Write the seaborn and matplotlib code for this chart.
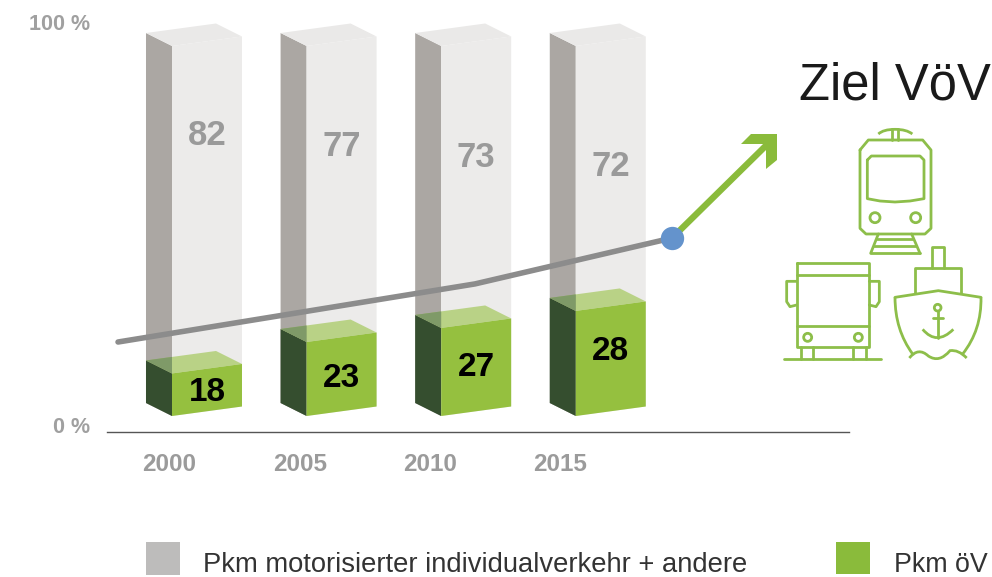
import numpy as np
import pandas as pd
import matplotlib
matplotlib.use("Agg")
import matplotlib.pyplot as plt
import seaborn as sns
from matplotlib.patches import Polygon, Rectangle, Circle, PathPatch
from matplotlib.path import Path
from matplotlib.transforms import Affine2D
from matplotlib.lines import Line2D

# ---- data
years = ["2000", "2005", "2010", "2015"]
oev_share = [18, 23, 27, 28]
miv_share = [82, 77, 73, 72]
oev_drawn_height = [11.5, 20, 23.8, 28.4]   # the green blocks as drawn, in % of the full column
full_column = [100, 100, 100, 100]
trend_x = [-0.661, 1.991, 3.455]
trend_y = [20, 35.7, 48.1]
goal_x = [3.455, 4.19]
goal_y = [48.1, 74.4]

# ---- styles and layout
W, H = 992, 577
GREEN, DARKGREEN = "#95C03F", "#354E2F"
LIGHT, SIDE, TOP = "#ECEBEA", "#ABA7A3", "#EAE9E8"
ARROW = "#8ABB3B"
ICON = "#8DBE4A"
sns.set_theme(style="white")
plt.rcParams["font.family"] = ["Liberation Sans", "DejaVu Sans"]

fig = plt.figure(figsize=(W / 100, H / 100), dpi=100, facecolor="white")
ax = fig.add_axes([107 / W, (H - 432) / H, 742 / W, 432 / H])
bar_w = 70 / 134.6
df = pd.DataFrame({"year": years, "full": full_column, "oev": oev_drawn_height})
sns.barplot(data=df, x="year", y="full", color=LIGHT, saturation=1, width=bar_w, ax=ax, zorder=2, errorbar=None)
sns.barplot(data=df, x="year", y="oev", color=GREEN, saturation=1, width=bar_w, ax=ax, zorder=6, errorbar=None)
ax.set_xlim(-0.7429, 4.770)
ax.set_ylim(-4.32, 112.43)
ax.set_xlabel("")
ax.set_ylabel("")

slant = 9.5 / 3.7 / bar_w      # front faces rise to the right
dx, dy = 26 / 134.6, 13 / 3.7  # depth of the block


def shear_front(patch):
    left = patch.get_x()
    m = np.array([[1, 0, 0], [slant, 1, -slant * left], [0, 0, 1]], float)
    patch.set_transform(Affine2D(m) + ax.transData)
    patch.set_linewidth(0)
    patch.set_clip_on(False)


def block(left, v, side, top, z, top_alpha=1.0):
    ax.add_patch(Polygon([(left, 0), (left, v), (left - dx, v + dy), (left - dx, dy)],
                         fc=side, lw=0, zorder=z - 1, clip_on=False))
    r = slant * bar_w
    ax.add_patch(Polygon([(left, v), (left + bar_w, v + r), (left + bar_w - dx, v + r + dy), (left - dx, v + dy)],
                         fc=top, alpha=top_alpha, lw=0, zorder=z + 1, clip_on=False))


patches = list(ax.patches)
for p in patches:
    shear_front(p)
for p, v in zip(patches[:4], full_column):
    block(p.get_x(), v, SIDE, TOP, 2)
for p, v in zip(patches[4:8], oev_drawn_height):
    left = p.get_x()
    block(left, v, DARKGREEN, GREEN, 6, top_alpha=0.58)
    ax.add_patch(Polygon([(left - dx, v + dy), (left, v), (left, v + dy + slant * dx)],
                         fc="#7F9A68", lw=0, zorder=7.5, clip_on=False))

sns.lineplot(x=trend_x, y=trend_y, sort=False, color="#8C8C8C", lw=4.0, ax=ax, zorder=5, errorbar=None,
             solid_capstyle="round", solid_joinstyle="round")
sns.lineplot(x=goal_x, y=goal_y, sort=False, color=ARROW, lw=4.6, ax=ax, zorder=9, errorbar=None,
             solid_capstyle="butt")
ax.plot([trend_x[-1]], [trend_y[-1]], "o", ms=16.8, mfc="#6493CC", mec="none", zorder=10, clip_on=False)

# value labels
for i, (g, y) in enumerate(zip(miv_share, [75.8, 72.8, 69.8, 67.3])):
    ax.text(i, y, str(g), ha="center", va="center", fontsize=25, fontweight="bold", color="#9A9A9A", zorder=4)
for i, (g, y) in enumerate(zip(oev_share, [6.4, 10.2, 13.2, 17.5])):
    ax.text(i, y, str(g), ha="center", va="center", fontsize=24, fontweight="bold", color="black", zorder=11)

# axes
sns.despine(ax=ax, left=True, top=True, right=True)
ax.spines["bottom"].set_color("#555555")
ax.spines["bottom"].set_linewidth(1)
ax.set_xticks([-0.282, 0.691, 1.657, 2.623], years)
ax.set_yticks([-2.4, 106.5], ["0 %", "100 %"])
ax.tick_params(axis="x", length=0, pad=15, labelsize=17.5, labelcolor="#9B9B9B")
ax.tick_params(axis="y", length=0, pad=12, labelsize=15.5, labelcolor="#A0A0A0")
for t in ax.get_xticklabels() + ax.get_yticklabels():
    t.set_fontweight("bold")

# free text, arrow head and legend, in image pixels
px = Affine2D().scale(1, -1).translate(0, H)
fig.add_artist(Polygon([(741, 144), (751, 134), (777, 134), (777, 160), (766, 169), (766, 144)],
                       fc=ARROW, lw=0, transform=px))
fig.text(799 / W, 1 - 99.5 / H, "Ziel VöV", fontsize=36.5, fontweight="normal", color="#1A1A1A",
         ha="left", va="baseline")
fig.add_artist(Rectangle((146, 542), 34, 33, fc="#BDBCBB", lw=0, transform=px))
fig.add_artist(Rectangle((836, 542), 34, 32, fc="#8ABB3B", lw=0, transform=px))
fig.text(203 / W, 1 - 571.5 / H, "Pkm motorisierter individualverkehr + andere", fontsize=19.7, color="#333333", va="baseline")
fig.text(894 / W, 1 - 571.5 / H, "Pkm öV", fontsize=19.3, color="#333333", va="baseline")

# transport icons, outlined in crop coordinates (3x, origin 780,120)
ic = Affine2D().scale(1 / 3).translate(780, 120) + px
lw = 2.0


def line(*pts, close=False):
    a = np.array(pts, float)
    if close:
        a = np.vstack([a, a[:1]])
    fig.add_artist(Line2D(a[:, 0], a[:, 1], color=ICON, lw=lw, transform=ic,
                          solid_joinstyle="round", solid_capstyle="round"))


def ring(x, y, r):
    fig.add_artist(Circle((x, y), r, fc="none", ec=ICON, lw=lw, transform=ic))


def curve(*pts):
    codes = [Path.MOVETO] + [Path.CURVE3] * (len(pts) - 1)
    fig.add_artist(PathPatch(Path(pts, codes), fc="none", ec=ICON, lw=lw, transform=ic))


# train
line((240, 90), (265, 60), (428, 60), (453, 90), (453, 325), (435, 342), (258, 342), (240, 325), close=True)
line((262, 120), (274, 108), (420, 108), (432, 120), (432, 236), (390, 243), (345, 246), (300, 243), (262, 236), close=True)
ring(285, 293, 15); ring(407, 293, 15)
curve((295, 42), (310, 28), (345, 28), (380, 28), (397, 42))
line((335, 28), (335, 60)); line((355, 28), (355, 60))
line((295, 342), (272, 400)); line((395, 342), (420, 400))
line((290, 358), (400, 358)); line((282, 377), (408, 377)); line((272, 398), (420, 398))
# bus
line((50, 430), (268, 430), (268, 682), (50, 682), close=True)
line((50, 465), (268, 465)); line((50, 618), (268, 618))
line((50, 484), (20, 484), (20, 545), (30, 560), (50, 555))
line((268, 484), (298, 484), (298, 545), (288, 560), (268, 555))
ring(83, 652, 12); ring(235, 652, 12)
for wx in (62, 100, 220, 257):
    line((wx, 682), (wx, 717))
line((12, 717), (302, 717))
# ship
line((455, 445), (455, 382), (493, 382), (493, 445))
line((405, 520), (405, 445), (543, 445), (543, 520))
line((345, 532), (475, 512), (603, 532))
curve((345, 532), (345, 630), (398, 702))
curve((603, 532), (605, 630), (548, 702))
curve((388, 714), (415, 680), (445, 708), (478, 730), (510, 692), (535, 688), (560, 714))
ring(473, 563, 10)
line((473, 573), (473, 655)); line((460, 595), (488, 595))
curve((428, 628), (470, 678), (520, 628))

fig.savefig("out.png", dpi=100)
